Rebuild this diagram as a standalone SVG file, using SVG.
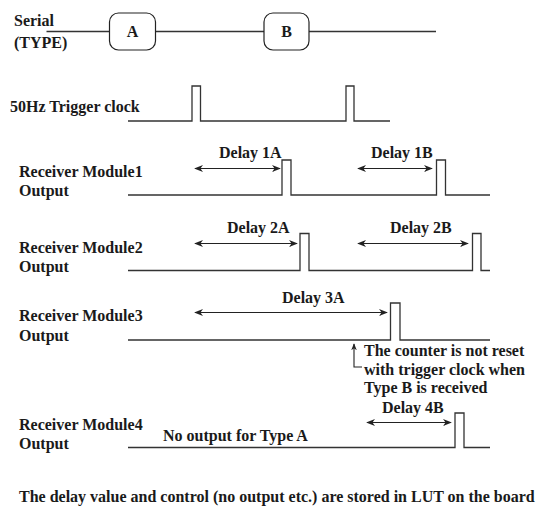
<svg xmlns="http://www.w3.org/2000/svg" width="541" height="514" viewBox="0 0 541 514">
<defs>
<style>
text{font-family:'Liberation Serif',serif;font-weight:700;font-size:16px;fill:#1a1a1a}
.sig{fill:none;stroke:#333;stroke-width:1.3}
.arr{fill:none;stroke:#222;stroke-width:1.2;marker-start:url(#ah);marker-end:url(#ah)}
.box{fill:#fff;stroke:#222;stroke-width:1.2}
</style>
<marker id="ah" viewBox="0 0 10 10" refX="9" refY="5" markerWidth="9" markerHeight="9" markerUnits="userSpaceOnUse" orient="auto-start-reverse">
<path d="M0,1 L10,5 L0,9 L3,5 Z" fill="#222"/>
</marker>
<marker id="ah2" viewBox="0 0 10 10" refX="9" refY="5" markerWidth="7" markerHeight="7" markerUnits="userSpaceOnUse" orient="auto">
<path d="M0,1 L10,5 L0,9 L3,5 Z" fill="#222"/>
</marker>
</defs>
<rect width="541" height="514" fill="#fff"/>
<g id="connectors">
<line class="sig" x1="46.5" y1="31.5" x2="109.5" y2="31.5"/>
<line class="sig" x1="155.5" y1="31.5" x2="264" y2="31.5"/>
<line class="sig" x1="309" y1="31.5" x2="436" y2="31.5"/>
<path class="sig" d="M128,121 H192 V86 H200.5 V121 H346 V86 H354 V121 H390"/>
<path class="sig" d="M128,195 H282 V160 H291 V195 H436.5 V160 H445.5 V195 H490"/>
<path class="sig" d="M128,270.5 H300 V233.5 H309 V270.5 H472.5 V233.5 H481 V270.5 H490"/>
<path class="sig" d="M128,340 H390.5 V303 H400 V340 H490"/>
<path class="sig" d="M128,447.5 H455 V413 H464 V447.5 H490"/>
<line class="arr" x1="195" y1="168.5" x2="280" y2="168.5"/>
<line class="arr" x1="358" y1="168.5" x2="432" y2="168.5"/>
<line class="arr" x1="195" y1="243.5" x2="297" y2="243.5"/>
<line class="arr" x1="358" y1="243.5" x2="468" y2="243.5"/>
<line class="arr" x1="195" y1="312.5" x2="387" y2="312.5"/>
<line class="arr" x1="367" y1="422.5" x2="451" y2="422.5"/>
<path d="M362,367 H354 V344" fill="none" stroke="#222" stroke-width="1.1" marker-end="url(#ah2)"/>
</g>
<g id="labels">
<text x="14" y="26">Serial</text>
<text x="14" y="48">(TYPE)</text>
<text x="10" y="112">50Hz Trigger clock</text>
<text x="19" y="177">Receiver Module1</text>
<text x="19" y="196">Output</text>
<text x="19" y="253">Receiver Module2</text>
<text x="19" y="272">Output</text>
<text x="19" y="321">Receiver Module3</text>
<text x="19" y="341">Output</text>
<text x="19" y="430">Receiver Module4</text>
<text x="19" y="449">Output</text>
<text x="163" y="441">No output for Type A</text>
<text x="219" y="158">Delay 1A</text>
<text x="371" y="158">Delay 1B</text>
<text x="227" y="233">Delay 2A</text>
<text x="390" y="233">Delay 2B</text>
<text x="282" y="303">Delay 3A</text>
<text x="382" y="413">Delay 4B</text>
<text x="364" y="356">The counter is not reset</text>
<text x="364" y="375">with trigger clock when</text>
<text x="364" y="393">Type B is received</text>
<text x="19" y="502">The delay value and control (no output etc.) are stored in LUT on the board</text>
</g>
<g id="nodeA">
<rect class="box" x="109.5" y="13" width="46" height="37" rx="9"/>
<text x="132.5" y="37" text-anchor="middle">A</text>
</g>
<g id="nodeB">
<rect class="box" x="264" y="13" width="45" height="37" rx="9"/>
<text x="286.5" y="37" text-anchor="middle">B</text>
</g>
</svg>
